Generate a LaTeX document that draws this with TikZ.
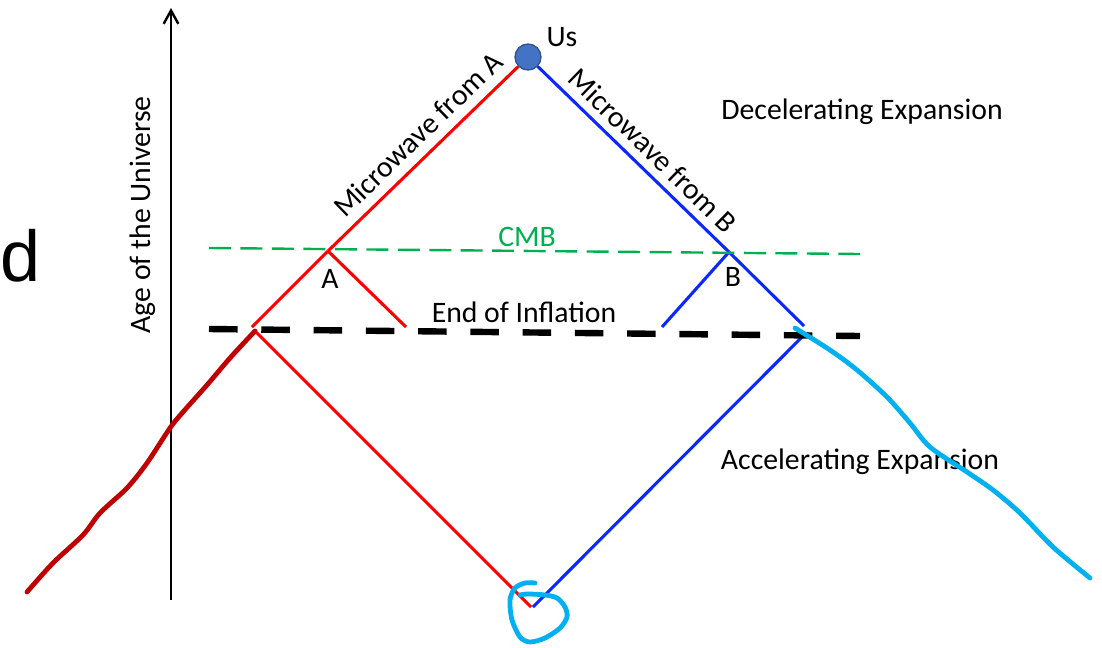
\documentclass[tikz,border=0pt]{standalone}
\usepackage{fontspec}
\setmainfont{Carlito}
\newfontfamily\arialfont{Liberation Sans}
\usetikzlibrary{arrows.meta}
\definecolor{redl}{RGB}{255,0,0}
\definecolor{bluel}{RGB}{10,40,255}
\definecolor{darkredl}{RGB}{192,0,0}
\definecolor{cyanl}{RGB}{0,176,240}
\definecolor{cmbgreen}{RGB}{0,176,80}
\definecolor{usfill}{RGB}{68,114,196}
\definecolor{usdraw}{RGB}{47,82,143}
\begin{document}
\begin{tikzpicture}[x=0.75pt,y=-0.75pt,
  lbl/.style={font=\fontsize{22.3}{25}\selectfont, inner sep=0pt},
  redray/.style={draw=redl, line width=2.3pt},
  blueray/.style={draw=bluel, line width=2.3pt},
  freehand/.style={line width=3.6pt, line cap=round, line join=round},
  cmbline/.style={draw=cmbgreen, line width=1.8pt, dash pattern=on 16.5pt off 7.1pt},
  inflline/.style={draw=black, line width=4.8pt, dash pattern=on 21.4pt off 17.8pt},
]
\useasboundingbox (0,0) rectangle (1102,647);

% axis
\coordinate (axb) at (171,600);
\coordinate (axt) at (171,8);
\draw[line width=1.8pt, -{Straight Barb[length=10pt,width=11pt]}] (axb) -- (axt);
\node[lbl, rotate=90] (age) at (143,215) {Age of the Universe};
\node[font=\arialfont\fontsize{54}{60}\selectfont, inner sep=0pt] (d) at (21,256) {d};

% key points
\node[circle, fill=usfill, draw=usdraw, line width=1pt, minimum size=19.5pt, inner sep=0pt] (us) at (528,57) {};
\coordinate (A) at (328,251);
\coordinate (Aend) at (252,327);
\coordinate (Abr) at (406,327);
\coordinate (B) at (729,252);
\coordinate (Bend) at (804,326);
\coordinate (Bbr) at (662,327);
\coordinate (rl) at (255,331);
\coordinate (rbot) at (531,607);
\coordinate (bbot) at (533,607);
\coordinate (bl) at (803,336);

% rays
\draw[redray] (A) -- node[lbl, sloped, above=7pt, pos=0.55] (mwa) {Microwave from A} (us);
\draw[redray] (A) -- (Aend);
\draw[redray] (A) -- (Abr);
\draw[blueray] (us) -- node[lbl, sloped, above=6pt, pos=0.53] (mwb) {Microwave from B} (B);
\draw[blueray] (B) -- (Bend);
\draw[blueray] (B) -- (Bbr);
\draw[redray] (rl) -- (rbot);
\draw[blueray] (bbot) -- (bl);

% dashed lines
\coordinate (g1) at (209,248);
\coordinate (g2) at (860,254);
\draw[cmbline] (g1) -- (g2);
\coordinate (k1) at (209,329);
\coordinate (k2) at (860,336);
\draw[inflline] (k1) -- (k2);

% labels
\node[lbl] (us lbl) at (562,37) {Us};
\node[lbl, text=cmbgreen] (cmb) at (527,237) {CMB};
\node[lbl] (Alab) at (330,279) {A};
\node[lbl] (Blab) at (733,277) {B};
\node[lbl] (eoi) at (524,312) {End of Inflation};
\node[lbl] (dec) at (862,112) {Decelerating Expansion};
\node[lbl] (acc) at (860,462) {Accelerating Expansion};

% freehand curves
\draw[freehand, darkredl] plot[smooth] coordinates {(27,592) (53,563) (83,535) (100,513) (127,488) (147,463) (170,428) (183,412) (207,385) (230,358) (255,331)};
\draw[freehand, cyanl] plot[smooth] coordinates {(795,328) (830,350) (857,370) (887,397) (910,423) (930,447) (967,472) (993,490) (1020,513) (1053,547) (1090,578)};
\draw[freehand, cyanl] plot[smooth] coordinates {(535,583) (525,583) (515,588) (510,600) (512,620) (520,637) (530,642) (545,638) (560,628) (567,617) (565,607) (557,598) (545,595) (528,594) (520,595)};
\end{tikzpicture}
\end{document}
